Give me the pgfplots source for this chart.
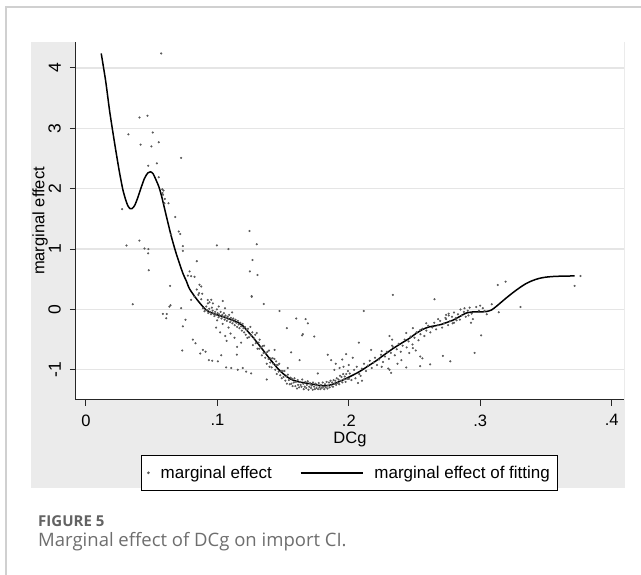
\documentclass[border=0pt]{standalone}
\usepackage{pgfplots}
\pgfplotsset{compat=1.18}
\usepackage{fontspec}
\setmainfont{Liberation Sans}
\newfontfamily\capfont{Open Sans}
\definecolor{regiongray}{HTML}{EBEBEB}
\definecolor{capgray}{HTML}{6E6E6E}
\definecolor{framegray}{HTML}{D0D0D0}
\begin{document}
\begin{tikzpicture}
\useasboundingbox (0pt,0pt) rectangle (641pt,575pt);
\fill[white] (0pt,0pt) rectangle (641pt,575pt);
\draw[framegray, line width=1.5pt] (6pt,0pt) -- (6pt,568pt) -- (641pt,568pt);
\fill[regiongray] (31pt,87pt) rectangle (625pt,533pt);
\begin{axis}[
  at={(76pt,175pt)}, anchor=south west,
  scale only axis, width=548pt, height=358pt,
  xmin=-0.0076, xmax=0.4094, ymin=-1.50, ymax=4.43,
  axis x line*=bottom, axis y line*=left,
  axis line style={black!85, line width=1pt, -},
  axis background/.style={fill=white},
  tick align=outside, major tick length=6pt,
  tick style={black!85, line width=1pt},
  xtick={0,0.1,0.2,0.3,0.4}, xticklabels={0,.1,.2,.3,.4},
  ytick={-1,0,1,2,3,4}, yticklabels={-1,0,1,2,3,4},
  ymajorgrids, grid style={black!10, line width=1.2pt},
  font=\fontsize{16.5}{19}\selectfont,
  xticklabel style={font=\fontsize{16.5}{19}\selectfont, yshift=-5pt},
  yticklabel style={font=\fontsize{17.5}{20}\selectfont, rotate=90, anchor=south, inner ysep=9pt},
  xlabel={DCg}, ylabel={marginal effect},
  xlabel style={at={(axis description cs:0.5,-0.111)}, anchor=center},
  ylabel style={at={(axis description cs:-0.0657,0.5)}, anchor=center, rotate=0},
  legend columns=2,
  legend style={at={(axis description cs:0.4991,-0.1536)}, anchor=north,
    draw=black, line width=0.8pt, fill=white, inner xsep=6pt, inner ysep=8.5pt,
    font=\fontsize{17}{20}\selectfont,
    /tikz/every odd column/.append style={column sep=9pt},
    /tikz/every even column/.append style={column sep=26pt}},
  legend cell align=left,
  clip=false,
]
\addplot[only marks, mark=*, mark size=0.85pt, draw=black!65, fill=black!65,
  legend image code/.code={\fill[black!65] (0pt,0pt) circle (0.9pt);}]
  table[row sep=\\]{
x y \\
0.0572 4.24 \\ 0.0407 3.18 \\ 0.0468 3.21 \\ 0.0323 2.90 \\ 0.0508 2.93 \\
0.0415 2.73 \\ 0.0498 2.70 \\ 0.0554 2.77 \\ 0.0724 2.51 \\ 0.0473 2.38 \\
0.0539 2.42 \\ 0.0554 2.19 \\ 0.0580 1.99 \\ 0.0590 1.97 \\ 0.0582 1.93 \\
0.0586 1.90 \\ 0.0275 1.66 \\ 0.0597 1.76 \\ 0.0628 1.76 \\ 0.0600 1.83 \\
0.0679 1.53 \\ 0.0706 1.29 \\ 0.0717 1.25 \\ 0.0648 1.24 \\ 0.0407 1.14 \\
0.0308 1.06 \\ 0.0445 1.01 \\ 0.0475 1.00 \\ 0.0473 0.93 \\ 0.0737 1.05 \\
0.0737 0.97 \\ 0.0996 1.06 \\ 0.1084 1.00 \\ 0.0478 0.65 \\ 0.0843 0.80 \\
0.0788 0.63 \\ 0.0800 0.55 \\ 0.0826 0.54 \\ 0.0775 0.56 \\ 0.0640 0.39 \\
0.0843 0.33 \\ 0.0877 0.38 \\ 0.0800 0.16 \\ 0.0826 0.21 \\ 0.0855 0.24 \\
0.0877 0.17 \\ 0.0356 0.086 \\ 0.0635 0.046 \\ 0.0643 0.07 \\ 0.0724 0.02 \\
0.0927 0.157 \\ 0.0953 0.16 \\ 0.1041 0.14 \\ 0.0940 0.12 \\ 0.0585 -0.075 \\
0.0615 -0.075 \\ 0.0610 -0.146 \\ 0.0757 -0.17 \\ 0.0737 -0.28 \\ 0.0864 0.41 \\
0.0884 0.26 \\ 0.0966 0.10 \\ 0.1260 0.22 \\ 0.1353 0.09 \\ 0.1473 -0.025 \\
0.0813 -0.50 \\ 0.0833 -0.56 \\ 0.0732 -0.68 \\ 0.0889 -0.67 \\ 0.0910 -0.70 \\
0.0869 -0.73 \\ 0.0935 -0.84 \\ 0.0960 -0.85 \\ 0.1003 -0.86 \\ 0.1029 -0.76 \\
0.1067 -0.96 \\ 0.1105 -0.97 \\ 0.1155 -1.00 \\ 0.1193 -0.97 \\ 0.1219 -1.03 \\
0.1257 -1.06 \\ 0.1148 -0.75 \\ 0.1244 1.30 \\ 0.1300 1.08 \\ 0.1267 0.82 \\
0.1247 0.63 \\ 0.1305 0.57 \\ 0.1262 0.21 \\ 0.1600 -0.15 \\ 0.1671 -0.16 \\
0.1688 -0.23 \\ 0.1650 -0.41 \\ 0.1737 -0.45 \\ 0.1764 -1.06 \\ 0.1840 -0.75 \\
0.1528 -0.31 \\ 0.1644 -0.43 \\ 0.1397 -0.95 \\ 0.1376 -1.16 \\ 0.1536 -0.97 \\
0.1561 -0.71 \\ 0.1625 -0.84 \\ 0.1435 -0.67 \\ 0.1447 -0.86 \\ 0.2335 0.24 \\
0.2114 -0.025 \\ 0.2652 0.17 \\ 0.2076 -0.55 \\ 0.1866 -0.84 \\ 0.1980 -0.74 \\
0.2437 -0.96 \\ 0.2543 -0.94 \\ 0.2619 -0.91 \\ 0.2716 -0.77 \\ 0.2772 -0.86 \\
0.3134 0.405 \\ 0.3193 0.46 \\ 0.3718 0.39 \\ 0.3763 0.555 \\ 0.3307 0.04 \\
0.3088 0.086 \\ 0.3141 -0.046 \\ 0.3000 0.063 \\ 0.3033 -0.025 \\ 0.3007 -0.43 \\
0.2957 -0.72 \\ 0.0860 0.27 \\ 0.0927 0.10 \\
0.0890 0.02 \\ 0.0902 -0.03 \\ 0.0915 0.05 \\ 0.0921 -0.01 \\ 0.0930 -0.06 \\
0.0938 0.01 \\ 0.0945 -0.04 \\ 0.0951 -0.08 \\ 0.0958 0.03 \\ 0.0964 -0.02 \\
0.0970 -0.07 \\ 0.0977 -0.11 \\ 0.0983 -0.04 \\ 0.0990 -0.09 \\ 0.0996 0.00 \\
0.1002 -0.06 \\ 0.1008 -0.13 \\ 0.1013 -0.08 \\ 0.1019 -0.11 \\ 0.1025 -0.04 \\
0.1031 -0.15 \\ 0.1037 -0.09 \\ 0.1043 -0.12 \\ 0.1049 -0.06 \\ 0.1055 -0.17 \\
0.1061 -0.10 \\ 0.1067 -0.14 \\ 0.1072 -0.19 \\ 0.1078 -0.12 \\ 0.1084 -0.16 \\
0.1090 -0.09 \\ 0.1096 -0.21 \\ 0.1102 -0.14 \\ 0.1108 -0.18 \\ 0.1114 -0.23 \\
0.1120 -0.15 \\ 0.1126 -0.20 \\ 0.1132 -0.26 \\ 0.1138 -0.17 \\ 0.1144 -0.22 \\
0.1150 -0.29 \\ 0.1156 -0.19 \\ 0.1162 -0.25 \\ 0.1168 -0.31 \\ 0.1174 -0.22 \\
0.1180 -0.28 \\ 0.1186 -0.35 \\ 0.1192 -0.24 \\ 0.1198 -0.31 \\ 0.1204 -0.38 \\
0.1210 -0.29 \\ 0.1216 -0.42 \\ 0.1222 -0.34 \\ 0.1228 -0.47 \\ 0.0998 -0.18 \\
0.1040 -0.24 \\ 0.1085 -0.30 \\ 0.1010 0.05 \\ 0.1058 0.02 \\ 0.1112 -0.05 \\
0.0990 -0.30 \\ 0.1020 -0.38 \\ 0.1060 -0.44 \\ 0.1100 -0.40 \\ 0.1130 -0.47 \\
0.1180 -0.55 \\ 0.1070 -0.52 \\ 0.1150 -0.62 \\
0.1233 -0.32 \\ 0.1240 -0.46 \\ 0.1251 -0.29 \\ 0.1255 -0.43 \\ 0.1266 -0.38 \\
0.1270 -0.59 \\ 0.1279 -0.48 \\ 0.1288 -0.42 \\ 0.1291 -0.56 \\ 0.1299 -0.39 \\
0.1305 -0.65 \\ 0.1313 -0.55 \\ 0.1318 -0.65 \\ 0.1322 -0.50 \\ 0.1331 -0.63 \\
0.1338 -0.76 \\ 0.1343 -0.61 \\ 0.1351 -0.72 \\ 0.1355 -0.60 \\ 0.1364 -0.80 \\
0.1369 -0.72 \\ 0.1376 -0.90 \\ 0.1381 -0.70 \\ 0.1389 -0.82 \\ 0.1393 -0.68 \\
0.1402 -0.88 \\ 0.1407 -0.81 \\ 0.1413 -0.96 \\ 0.1421 -0.81 \\ 0.1425 -0.90 \\
0.1434 -0.82 \\ 0.1440 -1.00 \\ 0.1446 -0.92 \\ 0.1452 -1.07 \\ 0.1459 -0.92 \\
0.1466 -1.03 \\ 0.1471 -0.90 \\ 0.1478 -1.09 \\ 0.1485 -1.02 \\ 0.1490 -1.14 \\
0.1497 -1.02 \\ 0.1503 -1.12 \\ 0.1511 -1.02 \\ 0.1517 -1.18 \\ 0.1524 -1.11 \\
0.1529 -1.23 \\ 0.1536 -1.08 \\ 0.1544 -1.17 \\ 0.1550 -1.24 \\ 0.1557 -1.13 \\
0.1563 -1.23 \\ 0.1569 -1.15 \\ 0.1572 -1.27 \\ 0.1581 -1.21 \\ 0.1586 -1.14 \\
0.1593 -1.27 \\ 0.1597 -1.20 \\ 0.1605 -1.31 \\ 0.1611 -1.17 \\ 0.1614 -1.25 \\
0.1622 -1.29 \\ 0.1629 -1.20 \\ 0.1633 -1.25 \\ 0.1640 -1.28 \\ 0.1645 -1.16 \\
0.1653 -1.23 \\ 0.1657 -1.32 \\ 0.1664 -1.28 \\ 0.1670 -1.20 \\ 0.1676 -1.30 \\
0.1681 -1.25 \\ 0.1688 -1.19 \\ 0.1693 -1.33 \\ 0.1699 -1.28 \\ 0.1706 -1.22 \\
0.1712 -1.30 \\ 0.1717 -1.26 \\ 0.1725 -1.33 \\ 0.1728 -1.21 \\ 0.1736 -1.28 \\
0.1741 -1.32 \\ 0.1747 -1.23 \\ 0.1754 -1.30 \\ 0.1758 -1.26 \\ 0.1766 -1.32 \\
0.1771 -1.22 \\ 0.1777 -1.29 \\ 0.1784 -1.32 \\ 0.1788 -1.25 \\ 0.1795 -1.30 \\
0.1801 -1.21 \\ 0.1806 -1.28 \\ 0.1813 -1.32 \\ 0.1819 -1.24 \\ 0.1824 -1.29 \\
0.1831 -1.20 \\ 0.1837 -1.31 \\ 0.1842 -1.26 \\ 0.1849 -1.21 \\ 0.1854 -1.29 \\
0.1861 -1.18 \\ 0.1866 -1.26 \\ 0.1873 -1.21 \\ 0.1879 -1.28 \\ 0.1884 -1.17 \\
0.1891 -1.23 \\ 0.1897 -1.18 \\ 0.1903 -1.25 \\ 0.1908 -1.14 \\ 0.1916 -1.22 \\
0.1921 -1.16 \\ 0.1927 -1.24 \\ 0.1933 -1.10 \\ 0.1939 -1.18 \\ 0.1944 -1.12 \\
0.1951 -1.21 \\ 0.1957 -1.07 \\ 0.1962 -1.16 \\ 0.1969 -1.11 \\ 0.1975 -1.20 \\
0.1981 -1.07 \\ 0.1988 -1.15 \\ 0.1993 -1.02 \\ 0.2001 -1.15 \\ 0.2007 -1.06 \\
0.1900 -0.90 \\ 0.1930 -0.97 \\ 0.1950 -0.83 \\ 0.2000 -0.92 \\ 0.2030 -0.80 \\
0.1890 -1.00 \\ 0.1960 -0.95 \\ 0.2020 -1.17 \\ 0.2050 -1.14 \\ 0.2070 -1.22 \\
0.2090 -1.10 \\ 0.2100 -1.18 \\
0.2040 -1.00 \\ 0.2060 -0.95 \\ 0.2080 -1.07 \\ 0.2100 -0.98 \\ 0.2115 -0.90 \\
0.2130 -1.02 \\ 0.2145 -0.93 \\ 0.2160 -0.85 \\ 0.2175 -0.97 \\ 0.2190 -0.88 \\
0.2200 -0.80 \\ 0.2215 -0.92 \\ 0.2230 -0.83 \\ 0.2245 -0.75 \\ 0.2260 -0.87 \\
0.2275 -0.78 \\ 0.2290 -0.70 \\ 0.2305 -0.82 \\ 0.2320 -0.72 \\ 0.2335 -0.62 \\
0.2350 -0.76 \\ 0.2365 -0.66 \\ 0.2380 -0.57 \\ 0.2395 -0.70 \\ 0.2410 -0.60 \\
0.2425 -0.50 \\ 0.2440 -0.63 \\ 0.2455 -0.53 \\ 0.2470 -0.45 \\ 0.2485 -0.58 \\
0.2500 -0.47 \\ 0.2515 -0.38 \\ 0.2530 -0.51 \\ 0.2545 -0.41 \\ 0.2560 -0.32 \\
0.2575 -0.44 \\ 0.2590 -0.35 \\ 0.2605 -0.27 \\ 0.2620 -0.38 \\ 0.2635 -0.30 \\
0.2650 -0.22 \\ 0.2665 -0.33 \\ 0.2680 -0.26 \\ 0.2695 -0.19 \\ 0.2710 -0.30 \\
0.2725 -0.23 \\ 0.2740 -0.16 \\ 0.2755 -0.26 \\ 0.2770 -0.19 \\ 0.2785 -0.12 \\
0.2800 -0.22 \\ 0.2815 -0.14 \\ 0.2830 -0.08 \\ 0.2845 -0.17 \\ 0.2860 -0.10 \\
0.2875 -0.04 \\ 0.2890 -0.12 \\ 0.2905 -0.02 \\ 0.2920 0.03 \\ 0.2935 -0.07 \\
0.2735 -0.14 \\ 0.2760 -0.10 \\ 0.2790 -0.23 \\ 0.2820 -0.18 \\ 0.2850 0.00 \\
0.2880 0.02 \\ 0.2910 -0.10 \\ 0.2944 -0.16 \\ 0.2930 -0.22 \\
0.2250 -0.95 \\ 0.2300 -0.98 \\ 0.2370 -0.90 \\ 0.2400 -0.84 \\ 0.2460 -0.72 \\
0.2487 -0.64 \\ 0.2510 -0.68 \\ 0.2543 -0.78 \\ 0.2560 -0.81 \\ 0.2310 -0.44 \\
0.2330 -0.50 \\ 0.2437 -0.39 \\ 0.2487 -0.31 \\ 0.2543 -0.34 \\ 0.2589 -0.23 \\
0.2680 -0.16 \\ 0.2740 -0.09 \\ 0.2760 -0.07 \\ 0.2800 -0.05 \\ 0.2322 -1.05 \\
0.2310 -1.00 \\ 0.2170 -0.67 \\ 0.2250 -0.69 \\ 0.2330 -0.60 \\
0.2990 -0.02 \\ 0.3020 0.02 \\ 0.3050 -0.08 \\ 0.2970 0.04 \\
};
\addlegendentry{marginal effect}
\addplot[black, line width=1.5pt, smooth, tension=0.4,
  legend image code/.code={\draw[black, line width=1.5pt] (0pt,0pt) -- (62pt,0pt);}]
  table[row sep=\\]{
x y \\
0.0116 4.24 \\ 0.0150 3.78 \\ 0.0179 3.30 \\ 0.0205 2.93 \\ 0.0230 2.59 \\
0.0255 2.27 \\ 0.0280 1.99 \\ 0.0300 1.83 \\ 0.0318 1.72 \\ 0.0335 1.67 \\
0.0350 1.67 \\ 0.0370 1.72 \\ 0.0394 1.85 \\ 0.0420 2.02 \\ 0.0445 2.17 \\
0.0470 2.26 \\ 0.0490 2.28 \\ 0.0510 2.25 \\ 0.0534 2.14 \\ 0.0555 2.03 \\
0.0575 1.88 \\ 0.0610 1.56 \\ 0.0648 1.22 \\ 0.0686 0.93 \\ 0.0737 0.60 \\
0.0762 0.48 \\ 0.0788 0.34 \\ 0.0839 0.18 \\ 0.0880 0.07 \\ 0.0915 -0.01 \\
0.0960 -0.06 \\ 0.1016 -0.10 \\ 0.1070 -0.14 \\ 0.1117 -0.18 \\ 0.1160 -0.22 \\
0.1193 -0.27 \\ 0.1230 -0.36 \\ 0.1270 -0.46 \\ 0.1310 -0.57 \\ 0.1346 -0.67 \\
0.1385 -0.78 \\ 0.1422 -0.88 \\ 0.1460 -0.98 \\ 0.1498 -1.06 \\ 0.1540 -1.13 \\
0.1574 -1.17 \\ 0.1620 -1.20 \\ 0.1676 -1.22 \\ 0.1730 -1.24 \\ 0.1777 -1.26 \\
0.1820 -1.265 \\ 0.1853 -1.255 \\ 0.1900 -1.22 \\ 0.1954 -1.17 \\ 0.2020 -1.10 \\
0.2081 -1.03 \\ 0.2145 -0.94 \\ 0.2208 -0.85 \\ 0.2270 -0.75 \\ 0.2335 -0.65 \\
0.2400 -0.56 \\ 0.2460 -0.48 \\ 0.2510 -0.40 \\ 0.2563 -0.33 \\ 0.2610 -0.29 \\
0.2660 -0.27 \\ 0.2700 -0.25 \\ 0.2740 -0.22 \\ 0.2790 -0.18 \\ 0.2842 -0.12 \\
0.2893 -0.06 \\ 0.2950 -0.04 \\ 0.3000 -0.04 \\ 0.3046 -0.035 \\ 0.3085 -0.01 \\
0.3122 0.05 \\ 0.3160 0.12 \\ 0.3198 0.19 \\ 0.3250 0.28 \\ 0.3300 0.36 \\
0.3350 0.43 \\ 0.3400 0.48 \\ 0.3450 0.515 \\ 0.3500 0.535 \\ 0.3550 0.545 \\
0.3600 0.55 \\ 0.3660 0.553 \\ 0.3718 0.555 \\
};
\addlegendentry{marginal effect of fitting}
\end{axis}
\node[anchor=base west, inner sep=0pt, text=capgray!90!black] at (38pt,48pt)
  {\capfont\bfseries\fontsize{15}{18}\selectfont FIGURE 5};
\node[anchor=base west, inner sep=0pt, text=capgray] at (38pt,28.5pt)
  {\capfont\fontsize{18.5}{22}\selectfont Marginal effect of DCg on import CI.};
\end{tikzpicture}
\end{document}
